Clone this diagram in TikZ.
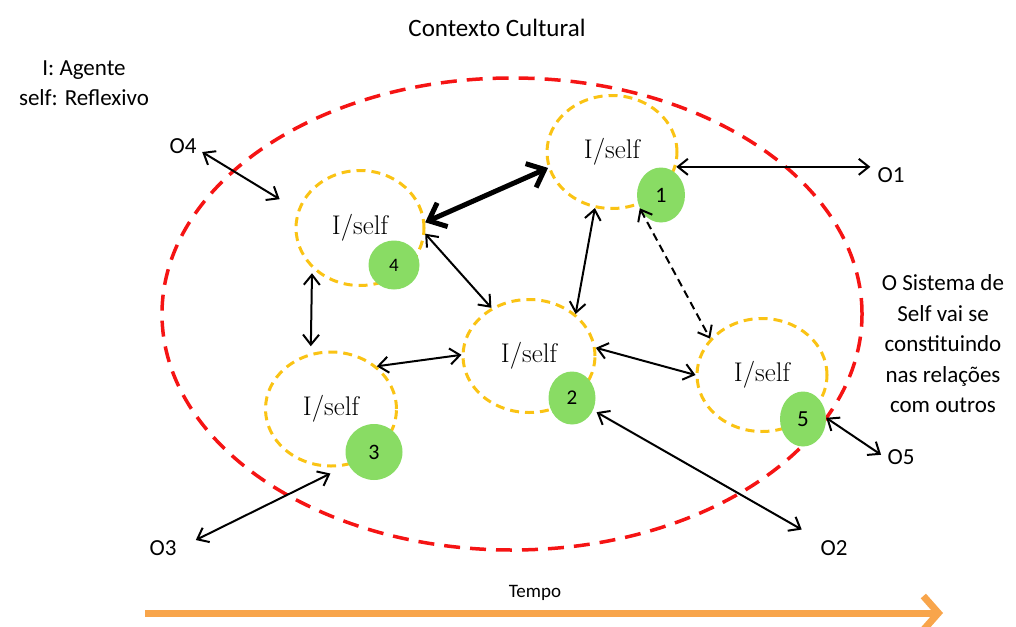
\documentclass[tikz,border=0pt]{standalone}
\usepackage{fontspec}
\newfontfamily\calib{Carlito}
\usetikzlibrary{arrows.meta,shapes.geometric}
\definecolor{selfyellow}{RGB}{250,195,20}
\definecolor{numgreen}{RGB}{137,220,100}
\definecolor{ctxred}{RGB}{245,20,20}
\definecolor{timeorange}{RGB}{248,165,75}
\begin{document}
\begin{tikzpicture}[x=1pt,y=-1pt,
 ctxnode/.style={ellipse, draw=ctxred, line width=3.5pt, dash pattern=on 16pt off 10pt, inner sep=0pt},
 selfnode/.style={ellipse, draw=selfyellow, line width=3pt, dash pattern=on 9pt off 6pt, inner sep=0pt, font=\fontsize{27}{30}\selectfont},
 numnode/.style={ellipse, fill=numgreen, inner sep=0pt, font=\calib\fontsize{21}{24}\selectfont},
 lbl/.style={font=\calib\fontsize{23}{30}\selectfont, inner sep=3pt},
 link/.style={draw=black, line width=2pt, {Straight Barb[length=10pt,width=16pt]}-{Straight Barb[length=10pt,width=16pt]}},
 strong/.style={draw=black, line width=5pt, {Straight Barb[length=15pt,width=26pt]}-{Straight Barb[length=15pt,width=26pt]}},
 weak/.style={dash pattern=on 8pt off 5pt},
]
\useasboundingbox (0,0) rectangle (1016,626);
% cultural context
\node[ctxnode, minimum width=700pt, minimum height=472pt] (ctx) at (512,314) {};
% texts
\node[lbl, font=\calib\fontsize{25}{30}\selectfont] (ctxlabel) at (497,28) {Contexto Cultural};
\node[lbl, align=center] (legend) at (84,83) {I: Agente\\self: Reflexivo};
\node[lbl, align=center, font=\calib\fontsize{23}{30.5}\selectfont] (note) at (943,344) {O Sistema de\\Self vai se\\constituindo\\nas relações\\com outros};
\node[lbl] (O4) at (183,146) {O4};
\node[lbl] (O1) at (891,175) {O1};
\node[lbl] (O5) at (901,457) {O5};
\node[lbl] (O2) at (834,548) {O2};
\node[lbl] (O3) at (163,548) {O3};
% selves
\node[selfnode, minimum width=130pt, minimum height=113pt] (y1) at (612,152) {I/self};
\node[selfnode, minimum width=128pt, minimum height=115pt] (y4) at (360,228) {I/self};
\node[selfnode, minimum width=132pt, minimum height=113pt] (y2) at (529,356) {I/self};
\node[selfnode, minimum width=131pt, minimum height=114pt] (y3) at (331,409) {I/self};
\node[selfnode, minimum width=130pt, minimum height=113pt] (y5) at (762,375) {I/self};
% numbers
\node[numnode, minimum width=48pt, minimum height=55pt, font=\calib\fontsize{22}{24}\selectfont] (g1) at (661,195) {1};
\node[numnode, minimum width=51pt, minimum height=49pt, font=\calib\fontsize{19}{24}\selectfont] (g4) at (394,265) {4};
\node[numnode, minimum width=47pt, minimum height=53pt] (g2) at (572,398) {2};
\node[numnode, minimum width=57pt, minimum height=56pt, font=\calib\fontsize{22}{24}\selectfont] (g3) at (374,452) {3};
\node[numnode, minimum width=46pt, minimum height=55pt, font=\calib\fontsize{23}{24}\selectfont] (g5) at (803,419) {5};
% relations
\draw[strong] (y4.5) -- (y1.194);
\draw[link] (y4.355) -- (y2.128);
\draw[link] (y1.253) -- (y2.42);
\draw[link, weak] (g1.212) -- (y5.145);
\draw[link, shorten <=5pt, shorten >=7pt] (y4.220) -- (y3.110);
\draw[link] (y3.43) -- (y2.179);
\draw[link] (y2.7) -- (y5.180);
\draw[link, shorten >=4pt] (g5.3) -- (O5.west);
\draw[link, shorten <=4pt, shorten >=18pt] (g2.330) -- (O2);
\draw[link, shorten <=18pt, shorten >=20pt] (O3.east) -- (g3);
\draw[link, shorten >=4pt] (y1.347) -- (y1.347 -| O1.west);
\draw[link, shorten <=3pt, shorten >=21pt] (O4.-15) -- (y4.164);
% time
\node[font=\calib\fontsize{19}{22}\selectfont] (tempo) at (535,593) {Tempo};
\coordinate (t0) at (145,613);
\coordinate (t1) at (943,613);
\draw[timeorange, line width=7pt, -{Straight Barb[length=15pt,width=34pt]}] (t0) -- (t1);
\end{tikzpicture}
\end{document}
